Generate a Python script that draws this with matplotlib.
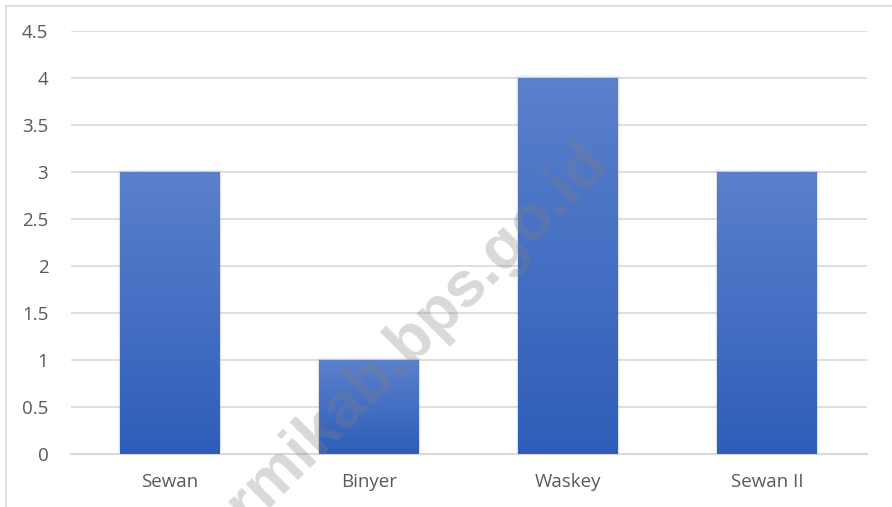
import matplotlib
matplotlib.use('Agg')
import matplotlib.pyplot as plt
from matplotlib.patches import Rectangle
from matplotlib.colors import LinearSegmentedColormap
import numpy as np

villages = ['Sewan', 'Binyer', 'Waskey', 'Sewan II']
counts = [3, 1, 4, 3]
y_ticks = [0, 0.5, 1, 1.5, 2, 2.5, 3, 3.5, 4, 4.5]
y_labels = ['0', '0.5', '1', '1.5', '2', '2.5', '3', '3.5', '4', '4.5']

plt.rcParams['font.family'] = ['Open Sans', 'DejaVu Sans']

fig = plt.figure(figsize=(8.92, 5.07), dpi=100)
ax = fig.add_axes([70.5 / 892, 53 / 507, 796 / 892, 423 / 507])

x = np.arange(len(villages))
width = 0.5
grad = LinearSegmentedColormap.from_list('bar', ['#2e5eb9', '#5b80cc'])

bars = ax.bar(x, counts, width=width, color='none', zorder=3)
for b in bars:
    bx, by = b.get_x(), b.get_y()
    bw, bh = b.get_width(), b.get_height()
    # soft shadow around the bar
    for i, a in enumerate([0.05, 0.07, 0.09]):
        d = 0.012 - i * 0.004
        ax.add_patch(Rectangle((bx - d, by), bw + 2 * d, bh + d * 3,
                               facecolor='#808080', alpha=a, edgecolor='none', zorder=2))
    img = ax.imshow(np.linspace(0, 1, 256).reshape(-1, 1), cmap=grad, aspect='auto',
                    extent=[bx, bx + bw, by, by + bh], origin='lower', zorder=3)
    img.set_clip_path(Rectangle((bx, by), bw, bh, transform=ax.transData))

ax.set_xlim(-0.5, len(villages) - 0.5)
ax.set_ylim(0, 4.5)
ax.set_xticks(x)
ax.set_xticklabels(villages)
ax.set_yticks(y_ticks)
ax.set_yticklabels(y_labels)
ax.tick_params(axis='both', length=0, labelsize=13.5, colors='#595959')
ax.tick_params(axis='y', pad=16)
ax.tick_params(axis='x', pad=14)
ax.grid(axis='y', color='#d9d9d9', linewidth=1.2, zorder=0)
ax.set_axisbelow(True)
for s in ['top', 'right', 'left']:
    ax.spines[s].set_visible(False)
ax.spines['bottom'].set_color('#d9d9d9')
ax.spines['bottom'].set_linewidth(1.5)

# chart frame (only top and left edges visible in the crop)
fig.add_artist(plt.Line2D([5.5 / 892, 1], [1 - 5.5 / 507, 1 - 5.5 / 507],
                          color='#d9d9d9', linewidth=1.2, transform=fig.transFigure))
fig.add_artist(plt.Line2D([5.5 / 892, 5.5 / 892], [0, 1 - 5.5 / 507],
                          color='#d9d9d9', linewidth=1.2, transform=fig.transFigure))

# watermark
fig.text(611 / 892, 1 - 165 / 507, 'sarmikab.bps.go.id', rotation=45,
         rotation_mode='anchor', ha='right', va='baseline',
         fontsize=46, fontweight='bold', family=['Liberation Sans', 'DejaVu Sans'],
         color='#808080', alpha=0.3, zorder=10)

fig.savefig('out.png', dpi=100)
